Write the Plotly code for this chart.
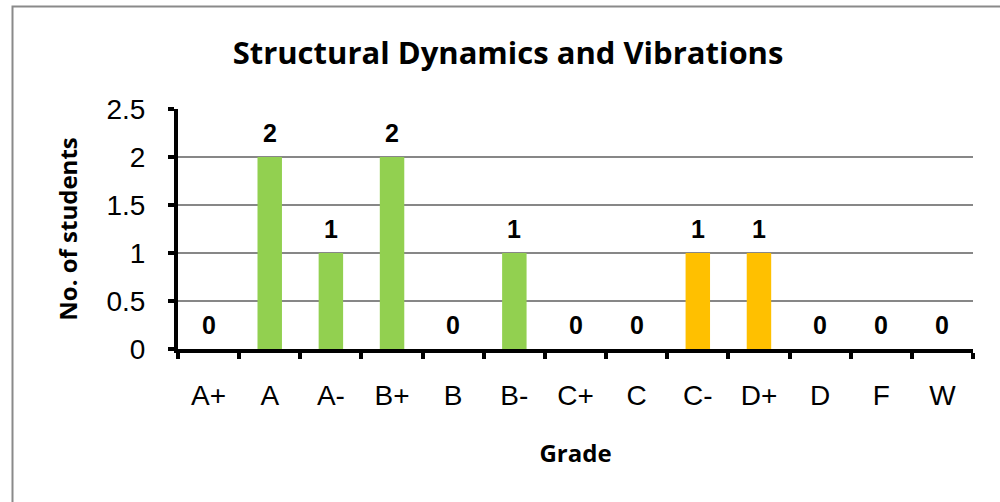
import plotly.graph_objects as go

grades = ["A+", "A", "A-", "B+", "B", "B-", "C+", "C", "C-", "D+", "D", "F", "W"]
students = [0, 2, 1, 2, 0, 1, 0, 0, 1, 1, 0, 0, 0]
bar_colors = ["#92D050"] * 6 + ["#FFC000"] * 7

L, R, T, B = 178, 27, 109, 153
W, H = 1000, 502
pw, ph = W - L - R, H - T - B

fig = go.Figure(go.Bar(
    x=grades, y=students, marker=dict(color=bar_colors, line=dict(width=0)),
    width=0.4, hoverinfo="x+y",
))

for g, v in zip(grades, students):
    fig.add_annotation(x=g, y=v, text=f"<b>{v}</b>", showarrow=False,
                       yanchor="middle", yshift=24,
                       font=dict(family="Liberation Sans", size=25, color="black"))

fig.update_layout(
    width=W, height=H, plot_bgcolor="white", paper_bgcolor="white",
    margin=dict(l=L, r=R, t=T, b=B), showlegend=False,
    title=dict(text="<b>Structural Dynamics and Vibrations</b>", x=0.508, xanchor="center",
               y=1 - 53 / H, yanchor="middle",
               font=dict(family="Open Sans", size=31, color="black")),
    xaxis=dict(showgrid=False, showline=True, linecolor="black", linewidth=4, automargin=False,
               ticks="outside", tickson="boundaries", ticklen=6, tickwidth=4, tickcolor="black",
               tickfont=dict(family="Liberation Sans", size=28, color="black"),
               ticklabelstandoff=18,
               title=dict(text="<b>Grade</b>", font=dict(family="Open Sans", size=24, color="black"), standoff=37)),
    yaxis=dict(range=[0, 2.5], dtick=0.5, showgrid=True, gridcolor="#878787", gridwidth=1.5,
               showline=True, linecolor="black", linewidth=4, zeroline=False, automargin=False,
               ticks="outside", ticklen=6, tickwidth=4, tickcolor="black",
               tickfont=dict(family="Liberation Sans", size=28, color="black"),
               ticklabelstandoff=17,
               title=dict(text="<b>No. of students</b>", font=dict(family="Open Sans", size=24, color="black"), standoff=23)),
)

# outer chart border
fig.add_shape(type="rect", xref="paper", yref="paper",
              x0=(12.5 - L) / pw, x1=(1010 - L) / pw,
              y0=(H - B - 515) / ph, y1=(H - B - 6.5) / ph,
              line=dict(color="#8A8A8A", width=2), layer="below")

fig.write_html("out.html", config={"displayModeBar": False},
               post_script="document.body.style.margin='0';")
